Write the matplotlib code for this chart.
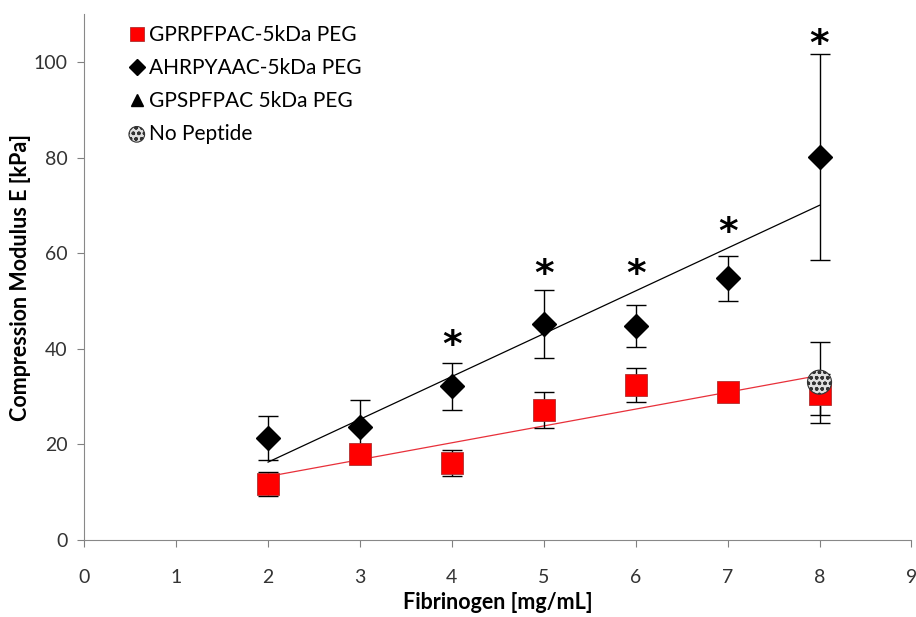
import numpy as np
import matplotlib
matplotlib.use('Agg')
import matplotlib.pyplot as plt

plt.rcParams['font.family'] = ['Lato', 'DejaVu Sans']

# fibrinogen concentration [mg/mL]
fib = [2, 3, 4, 5, 6, 7, 8]

# GPRPFPAC-5kDa PEG
gprp_mean = [11.7, 18.0, 16.1, 27.2, 32.4, 31.0, 30.5]
gprp_err = [2.5, 1.0, 2.7, 3.8, 3.6, 1.2, 4.3]

# AHRPYAAC-5kDa PEG
ahrp_mean = [21.4, 23.7, 32.1, 45.2, 44.8, 54.7, 80.1]
ahrp_err = [4.6, 5.6, 4.9, 7.1, 4.4, 4.7, 21.5]

# no peptide control
nopep_x = [8]
nopep_mean = [33.0]
nopep_err = [8.5]

# significance marks
sig_x = [4, 5, 6, 7, 8]
sig_y = [40.5, 55.5, 55.5, 64.3, 103.5]

fig = plt.figure(figsize=(9.16, 6.17), dpi=100)
ax = fig.add_axes([0.092, 0.125, 0.903, 0.852])

# linear trendlines
for y, c in [(ahrp_mean, 'black'), (gprp_mean, '#e8303a')]:
    k, b = np.polyfit(fib, y, 1)
    xs = np.array([fib[0], fib[-1]])
    ax.plot(xs, k * xs + b, color=c, lw=0.9, zorder=2)

for m, e, xx in [(ahrp_mean, ahrp_err, fib), (gprp_mean, gprp_err, fib),
                 (nopep_mean, nopep_err, nopep_x)]:
    ax.errorbar(xx, m, yerr=e, fmt='none', ecolor='black',
                elinewidth=1, capsize=7, capthick=1, zorder=3)

ax.plot(fib, gprp_mean, 's', color='#ff0000', mec='#b03030', mew=0.6, ms=16,
        ls='none', label='GPRPFPAC-5kDa PEG', zorder=4)
ax.plot(fib, ahrp_mean, 'D', color='black', ms=12.5, ls='none',
        label='AHRPYAAC-5kDa PEG', zorder=5)
ax.plot([], [], '^', color='black', ms=14, ls='none', label='GPSPFPAC 5kDa PEG')
ax.scatter(nopep_x, nopep_mean, s=300, marker='o', facecolor='#e0e0e0',
           edgecolor='#333333', hatch='ooo', linewidth=0.8,
           label='No Peptide', zorder=6)

for x, y in zip(sig_x, sig_y):
    ax.text(x, y, '*', ha='center', va='center', fontsize=27,
            fontweight='bold', family='DejaVu Sans')

ax.set_xlim(0, 9)
ax.set_ylim(0, 110)
ax.set_xticks(range(0, 10))
ax.set_yticks(range(0, 101, 20))
ax.tick_params(axis='both', colors='#808080', labelcolor='#333333',
               labelsize=14, length=5)
ax.tick_params(axis='x', pad=16)
ax.tick_params(axis='y', pad=7)
for s in ['top', 'right']:
    ax.spines[s].set_visible(False)
for s in ['left', 'bottom']:
    ax.spines[s].set_color('#888888')

ax.set_xlabel('Fibrinogen [mg/mL]', fontsize=15.5, fontweight='bold', labelpad=4)
ax.set_ylabel('Compression Modulus E [kPa]', fontsize=15.5, fontweight='bold',
              labelpad=2)

ax.legend(loc='upper left', bbox_to_anchor=(0.032, 1.015), frameon=False,
          handlelength=0.7, handletextpad=0.25, labelspacing=0.62,
          fontsize=15, markerscale=0.65)

fig.savefig('out.png', dpi=100)
